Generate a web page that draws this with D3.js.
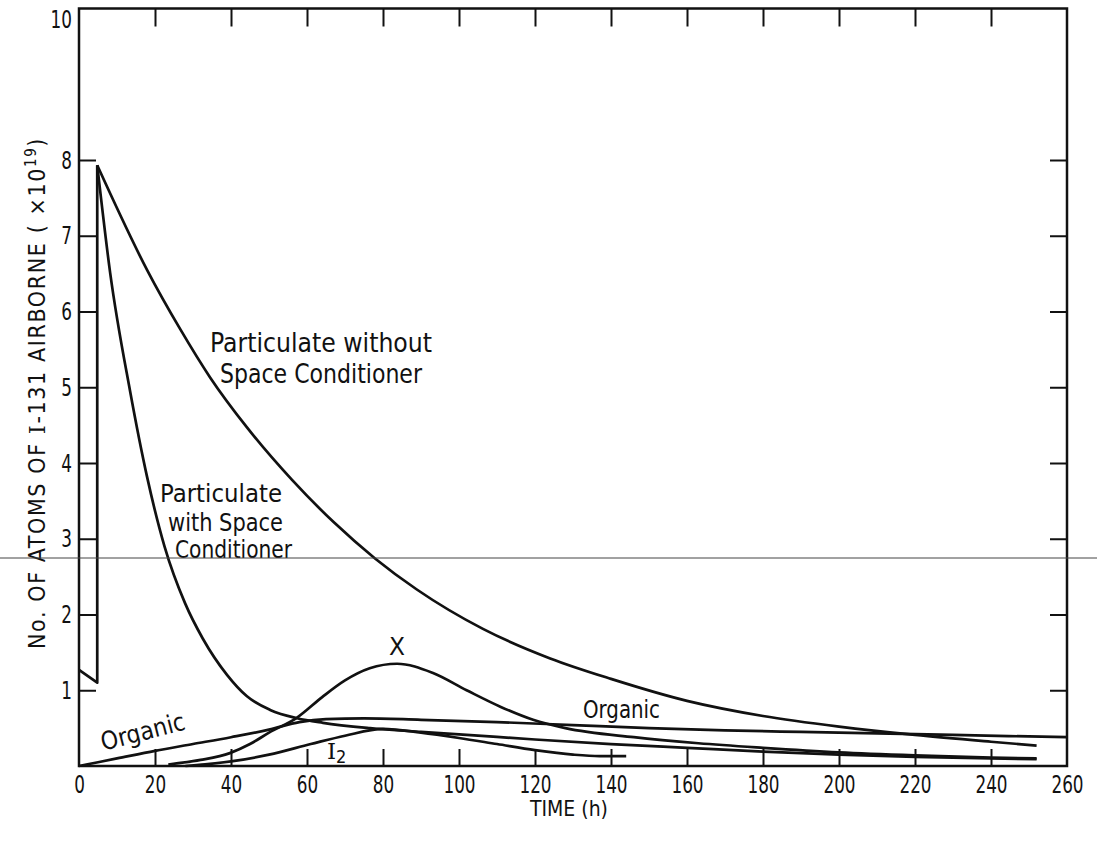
<!DOCTYPE html>
<html>
<head>
<meta charset="utf-8">
<script src="https://cdnjs.cloudflare.com/ajax/libs/d3/7.8.5/d3.min.js"></script>
<style>
body { margin: 0; background: #fff; }
svg text { font-family: 'DejaVu Sans Condensed', 'DejaVu Sans', sans-serif; fill: #111; }
.serif { font-family: 'DejaVu Serif', serif; }
</style>
</head>
<body>
<svg id="chart" width="1097" height="842"></svg>
<script>
// I-131 airborne inventory vs time

var timeTicks = [0, 20, 40, 60, 80, 100, 120, 140, 160, 180, 200, 220, 240, 260];
var valueTicks = [1, 2, 3, 4, 5, 6, 7, 8, 10];
var innerTimeTicks = [20, 40, 60, 80, 100, 120, 140, 160, 180, 200, 220, 240];
var innerValueTicks = [1, 2, 3, 4, 5, 6, 7, 8];

// release step before the peak
var initialRelease = [[0, 1.27], [4.8, 1.1], [4.8, 7.93]];

var withoutConditioner = [[4.8, 7.93], [17.9, 6.55], [26.6, 5.77], [34.5, 5.13], [44.2, 4.47], [56, 3.78],
    [67, 3.22], [77.9, 2.74], [88.9, 2.33], [106.3, 1.81], [124, 1.42], [140, 1.15], [160, 0.86],
    [180, 0.66], [200, 0.52], [220, 0.41], [240, 0.32], [252, 0.27]];

var withConditioner = [[4.8, 7.93], [8.2, 6.51], [13.4, 4.96], [17.9, 3.82], [22.5, 2.9], [27.9, 2.15],
    [32.6, 1.68], [39, 1.2], [44.2, 0.92], [50.3, 0.74], [57.4, 0.63], [64.2, 0.57], [76.6, 0.5],
    [90, 0.45], [105, 0.4], [120, 0.35], [140, 0.29], [160, 0.24], [180, 0.19], [200, 0.15],
    [220, 0.12], [240, 0.1], [252, 0.09]];

var xSeries = [[23.5, 0.02], [32, 0.08], [39.7, 0.17], [45, 0.29], [50, 0.44], [57.4, 0.64], [64, 0.91],
    [70, 1.13], [76.5, 1.29], [83.7, 1.35], [93, 1.23], [102, 1.0], [111, 0.78], [119.5, 0.61],
    [128, 0.5], [146, 0.38], [163, 0.3], [180, 0.24], [200, 0.18], [220, 0.14], [240, 0.11], [252, 0.1]];

var organic = [[0, 0], [10, 0.1], [20, 0.2], [30, 0.29], [40, 0.38], [50, 0.48], [58, 0.58], [65, 0.62],
    [75, 0.63], [90, 0.61], [110, 0.58], [130, 0.54], [150, 0.5], [170, 0.47], [190, 0.45],
    [210, 0.43], [230, 0.41], [260, 0.38]];

var iodine = [[28, 0], [40, 0.06], [50, 0.15], [61, 0.29], [70, 0.4], [80, 0.49], [90, 0.44],
    [100, 0.37], [110, 0.29], [120, 0.21], [130, 0.15], [137, 0.13], [144, 0.13]];

var svg = d3.select("#chart");

var x = d3.scaleLinear().domain([0, 260]).range([79, 1067]);
var y = d3.scaleLinear().domain([0, 10]).range([766, 8.5]);

// axes (ticks point inwards)
var bottom = svg.append("g").attr("transform", "translate(0," + y(0) + ")")
    .call(d3.axisBottom(x).tickValues(timeTicks).tickSizeInner(-17).tickSizeOuter(0).tickPadding(9));
bottom.selectAll(".tick line").filter(function (d) { return d == 0 || d == 260; }).remove();

var left = svg.append("g").attr("transform", "translate(" + x(0) + ",0)")
    .call(d3.axisLeft(y).tickValues(valueTicks).tickSizeInner(-17).tickSizeOuter(0).tickPadding(7));
left.selectAll(".tick").filter(function (d) { return d == 10; })
    .select("text").attr("dy", "0.74em");
left.selectAll(".tick line").filter(function (d) { return d == 10; }).remove();

svg.append("g").attr("transform", "translate(0," + y(10) + ")")
    .call(d3.axisTop(x).tickValues(innerTimeTicks).tickSizeInner(-18).tickSizeOuter(0).tickFormat(""));
svg.append("g").attr("transform", "translate(" + x(260) + ",0)")
    .call(d3.axisRight(y).tickValues(innerValueTicks).tickSizeInner(-17).tickSizeOuter(0).tickFormat(""));

svg.selectAll(".domain").remove();
svg.selectAll(".tick line").attr("stroke", "#111").attr("stroke-width", 2);
// narrow drafting digits
svg.selectAll(".tick text").style("font-size", "25px").attr("fill", "#111")
    .attr("textLength", function () { return this.textContent.length * 10.7; })
    .attr("lengthAdjust", "spacingAndGlyphs");

svg.append("rect")
    .attr("x", x(0)).attr("y", y(10))
    .attr("width", x(260) - x(0)).attr("height", y(0) - y(10))
    .attr("fill", "none").attr("stroke", "#111").attr("stroke-width", 2.5);

// curves
var smooth = d3.line().x(function (d) { return x(d[0]); }).y(function (d) { return y(d[1]); })
    .curve(d3.curveMonotoneX);
var straight = d3.line().x(function (d) { return x(d[0]); }).y(function (d) { return y(d[1]); });

var curves = svg.append("g").attr("fill", "none").attr("stroke", "#111")
    .attr("stroke-width", 2.7).attr("stroke-linejoin", "round");
curves.append("path").attr("d", straight(initialRelease));
[withoutConditioner, withConditioner, xSeries, organic, iodine].forEach(function (s) {
    curves.append("path").attr("d", smooth(s));
});

// curve labels
function label(txt, px, py, size, width, anchor) {
    var t = svg.append("text").attr("x", px).attr("y", py)
        .attr("text-anchor", anchor || "middle").style("font-size", size + "px").text(txt);
    if (width) t.attr("textLength", width).attr("lengthAdjust", "spacingAndGlyphs");
    return t;
}
label("Particulate without", 321, 352, 27, 222);
label("Space Conditioner", 321, 383, 27, 202);
label("Particulate", 160, 502, 25, 122, "start");
label("with Space", 168, 531, 25, 115, "start");
label("Conditioner", 175, 558, 25, 117, "start");
label("X", 397, 655, 25, 16);
label("Organic", 583, 718, 25, 77, "start");
svg.append("text").attr("transform", "translate(145,740) rotate(-14.5)")
    .attr("text-anchor", "middle").style("font-size", "25px")
    .attr("textLength", 86).attr("lengthAdjust", "spacingAndGlyphs").text("Organic");
var i2 = svg.append("text").attr("x", 327).attr("y", 759).style("font-size", "23px");
i2.append("tspan").attr("class", "serif").text("I");
i2.append("tspan").attr("dy", 4).style("font-size", "18px").text("2");

// axis titles
label("TIME (h)", 569, 816, 21, 78);
var yt = svg.append("text").attr("transform", "translate(45,393) rotate(-90)")
    .attr("text-anchor", "middle").style("font-size", "23px").style("letter-spacing", "1.6px");
yt.append("tspan").text("No. OF ATOMS OF ");
yt.append("tspan").attr("class", "serif").text("I");
yt.append("tspan").text("-131 AIRBORNE ( ×10");
yt.append("tspan").attr("dy", -9).style("font-size", "15px").text("19");
yt.append("tspan").attr("dy", 9).text(")");

// scan line across the sheet
svg.append("line").attr("x1", 0).attr("x2", 1097).attr("y1", 558).attr("y2", 558)
    .attr("stroke", "#444").attr("stroke-width", 1);
</script>
</body>
</html>
